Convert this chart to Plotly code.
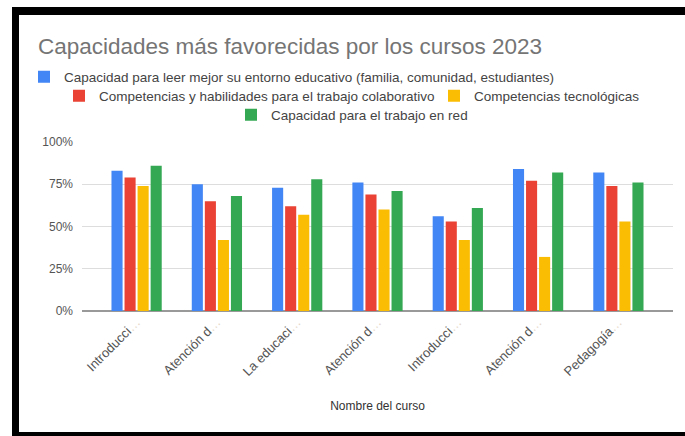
import plotly.graph_objects as go

# ---- data ----
course_labels = ["Introducci", "Atención d", "La educaci", "Atención d", "Introducci", "Atención d", "Pedagogía"]
series_names = [
    "Capacidad para leer mejor su entorno educativo (familia, comunidad, estudiantes)",
    "Competencias y habilidades para el trabajo colaborativo",
    "Competencias tecnológicas",
    "Capacidad para el trabajo en red",
]
leer_entorno = [83, 75, 73, 76, 56, 84, 82]
trabajo_colaborativo = [79, 65, 62, 69, 53, 77, 74]
tecnologicas = [74, 42, 57, 60, 42, 32, 53]
trabajo_red = [86, 68, 78, 71, 61, 82, 76]
y_ticks = [0, 25, 50, 75, 100]

colors = ["#4285F4", "#EA4335", "#FBBC04", "#34A853"]
series_values = [leer_entorno, trabajo_colaborativo, tecnologicas, trabajo_red]

W, H = 685, 436
L, R, T, B = 82, 12, 142, 125
PW, PH = W - L - R, H - T - B


def px_x(p):
    return (p - L) / PW


def px_y(p):
    return (H - B - p) / PH


x_pos = list(range(len(course_labels)))
legend_ids = ["legend", "legend2", "legend3", "legend4"]

fig = go.Figure()
for name, vals, col, lg in zip(series_names, series_values, colors, legend_ids):
    fig.add_trace(go.Bar(x=x_pos, y=vals, name=name, marker_color=col,
                         marker_line_width=0, legend=lg, showlegend=True))

font_family = "Liberation Sans, Arial, sans-serif"
leg_common = dict(font=dict(family=font_family, size=13.5, color="#444444"),
                  bgcolor="rgba(0,0,0,0)", yanchor="middle", xanchor="left",
                  xref="container", yref="container", visible=True,
                  orientation="v", itemclick=False)


def cx(p):
    return p / W


def cy(p):
    return 1 - p / H


fig.update_layout(
    width=W, height=H,
    showlegend=True,
    margin=dict(l=L, r=R, t=T, b=B, autoexpand=False),
    paper_bgcolor="white", plot_bgcolor="white",
    barmode="group", bargap=0.35, bargroupgap=0.15,
    font=dict(family=font_family, color="#444444"),
    title=dict(text="Capacidades más favorecidas por los cursos 2023",
               font=dict(family=font_family, size=22.5, color="#757575"),
               xref="container", yref="container",
               x=cx(38), xanchor="left", y=cy(46), yanchor="middle"),
    legend=dict(x=cx(24), y=cy(77), **leg_common),
    legend2=dict(x=cx(59), y=cy(96), **leg_common),
    legend3=dict(x=cx(434), y=cy(96), **leg_common),
    legend4=dict(x=cx(231), y=cy(115), **leg_common),
    xaxis=dict(range=[-0.68, len(course_labels) - 1 + 0.68],
               tickmode="array", tickvals=x_pos,
               ticktext=[c + "<span style='color:#e6d6c6'>…</span>" for c in course_labels],
               tickangle=-45, showgrid=False, showline=False, ticks="",
               tickfont=dict(family=font_family, size=13, color="#555555"),
               title=dict(text="Nombre del curso", standoff=23,
                          font=dict(family=font_family, size=12, color="#333333"))),
    yaxis=dict(range=[0, 100], tickmode="array", tickvals=y_ticks,
               ticktext=[f"{v}%" for v in y_ticks],
               showgrid=True, gridcolor="#dddddd", gridwidth=1,
               zeroline=True, zerolinecolor="#999999", zerolinewidth=2,
               showline=False, ticks="", ticklabelstandoff=8,
               tickfont=dict(family=font_family, size=12, color="#555555")),
)

# black frame around the chart (as in the screenshot)
frame = [
    (12, 19, 7, 440),
    (12, 700, 7, 15),
    (12, 700, 432, 440),
]
for x0, x1, y0, y1 in frame:
    fig.add_shape(type="rect", xref="paper", yref="paper",
                  x0=px_x(x0), x1=px_x(x1), y0=px_y(y1), y1=px_y(y0),
                  fillcolor="black", line_width=0, layer="above")

fig.write_html("out.html",
               config={"displayModeBar": False},
               post_script="document.body.style.margin='0';document.body.style.overflow='hidden';")
